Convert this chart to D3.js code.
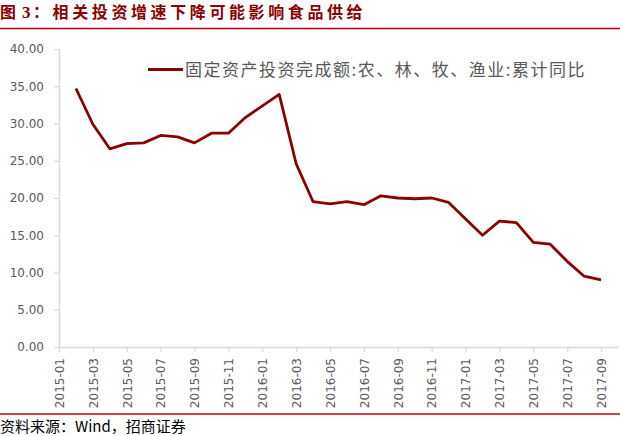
<!DOCTYPE html>
<html>
<head>
<meta charset="utf-8">
<script src="https://cdn.jsdelivr.net/npm/d3@7"></script>
<style>
  body { margin: 0; background: #fff; }
  svg { display: block; }
</style>
</head>
<body>
<div id="chart"></div>
<script>
// months on the category axis
var months = [
    "2015-01","2015-02","2015-03","2015-04","2015-05","2015-06","2015-07","2015-08","2015-09","2015-10","2015-11","2015-12",
    "2016-01","2016-02","2016-03","2016-04","2016-05","2016-06","2016-07","2016-08","2016-09","2016-10","2016-11","2016-12",
    "2017-01","2017-02","2017-03","2017-04","2017-05","2017-06","2017-07","2017-08","2017-09"
];

// cumulative yoy, %  (January is not published, so null)
var growth = [
    null, 34.7, 29.9, 26.6, 27.3, 27.4, 28.4, 28.2, 27.4, 28.7, 28.7, 30.8,
    null, 33.9, 24.6, 19.5, 19.2, 19.5, 19.1, 20.3, 20.0, 19.9, 20.0, 19.4,
    null, 15.0, 16.9, 16.7, 14.05, 13.8, 11.5, 9.5, 9.0
];

var yTicks = [0, 5, 10, 15, 20, 25, 30, 35, 40];
var seriesName = "固定资产投资完成额:农、林、牧、渔业:累计同比";
var titleText = "相关投资增速下降可能影响食品供给";
var sourceText = "资料来源：Wind，招商证券";

var width = 620,
    height = 436;

var svg = d3.select("#chart").append("svg")
    .attr("width", width)
    .attr("height", height);

var cjk = "'Noto Sans CJK SC', sans-serif";
var red = "#8B0000";

// title
svg.append("text").attr("x", 0).attr("y", 18)
    .attr("font-family", cjk).attr("font-weight", "bold").attr("font-size", 16)
    .attr("fill", red).text("图");
svg.append("text").attr("x", 22).attr("y", 18)
    .attr("font-family", "'Liberation Serif', serif").attr("font-weight", "bold").attr("font-size", 17)
    .attr("fill", red).text("3");
svg.append("text").attr("x", 33).attr("y", 18)
    .attr("font-family", cjk).attr("font-weight", "bold").attr("font-size", 16)
    .attr("letter-spacing", 3.6)
    .attr("fill", red).text("：" + titleText);

svg.append("line").attr("x1", 0).attr("x2", width).attr("y1", 28.5).attr("y2", 28.5)
    .attr("stroke", "#C00000").attr("stroke-width", 1.5);

// scales
var x = d3.scaleLinear()
    .domain([0, 33])
    .range([59, 618]);

var y = d3.scaleLinear()
    .domain([0, 40])
    .range([347, 49]);

// y axis
var yAxis = svg.append("g")
    .attr("transform", "translate(59,0)")
    .call(d3.axisLeft(y).tickValues(yTicks).tickFormat(d3.format(".2f")).tickSize(5).tickSizeOuter(0).tickPadding(10));

// x axis
var xAxis = svg.append("g")
    .attr("transform", "translate(0,347)")
    .call(d3.axisBottom(x).tickValues(d3.range(0, 33, 2)).tickFormat(function(i) { return months[i]; }).tickSize(5).tickSizeOuter(0));

xAxis.selectAll("text")
    .attr("transform", "translate(0,11) rotate(-90)")
    .attr("x", 0).attr("y", 0).attr("dy", "0.36em")
    .attr("text-anchor", "end");

[yAxis, xAxis].forEach(function(g) {
    g.select(".domain").attr("stroke", "#d9d9d9").attr("stroke-width", 1.5);
    g.selectAll(".tick line").attr("stroke", "#d9d9d9").attr("stroke-width", 1.2);
    g.selectAll("text")
        .attr("font-family", "'DejaVu Sans', sans-serif")
        .attr("font-size", 12)
        .attr("fill", "#595959");
});

// line, gaps for missing Januaries are connected
var pts = growth.map(function(v, i) { return {i: i, v: v}; })
    .filter(function(d) { return d.v !== null; });

var line = d3.line()
    .x(function(d) { return x(d.i); })
    .y(function(d) { return y(d.v); });

svg.append("path")
    .datum(pts)
    .attr("d", line)
    .attr("fill", "none")
    .attr("stroke", red)
    .attr("stroke-width", 2.8)
    .attr("stroke-linejoin", "round");

// legend
svg.append("line").attr("x1", 148).attr("x2", 183).attr("y1", 69.5).attr("y2", 69.5)
    .attr("stroke", red).attr("stroke-width", 2.8);
svg.append("text").attr("x", 185).attr("y", 75.5)
    .attr("font-family", cjk).attr("font-size", 17)
    .attr("letter-spacing", 1.5)
    .attr("fill", "#595959").text(seriesName);

// source
svg.append("line").attr("x1", 0).attr("x2", width).attr("y1", 414).attr("y2", 414)
    .attr("stroke", "#C00000").attr("stroke-width", 1.5);
svg.append("text").attr("x", 0).attr("y", 432)
    .attr("font-family", cjk).attr("font-size", 15)
    .attr("fill", "#000").text(sourceText);
</script>
</body>
</html>
